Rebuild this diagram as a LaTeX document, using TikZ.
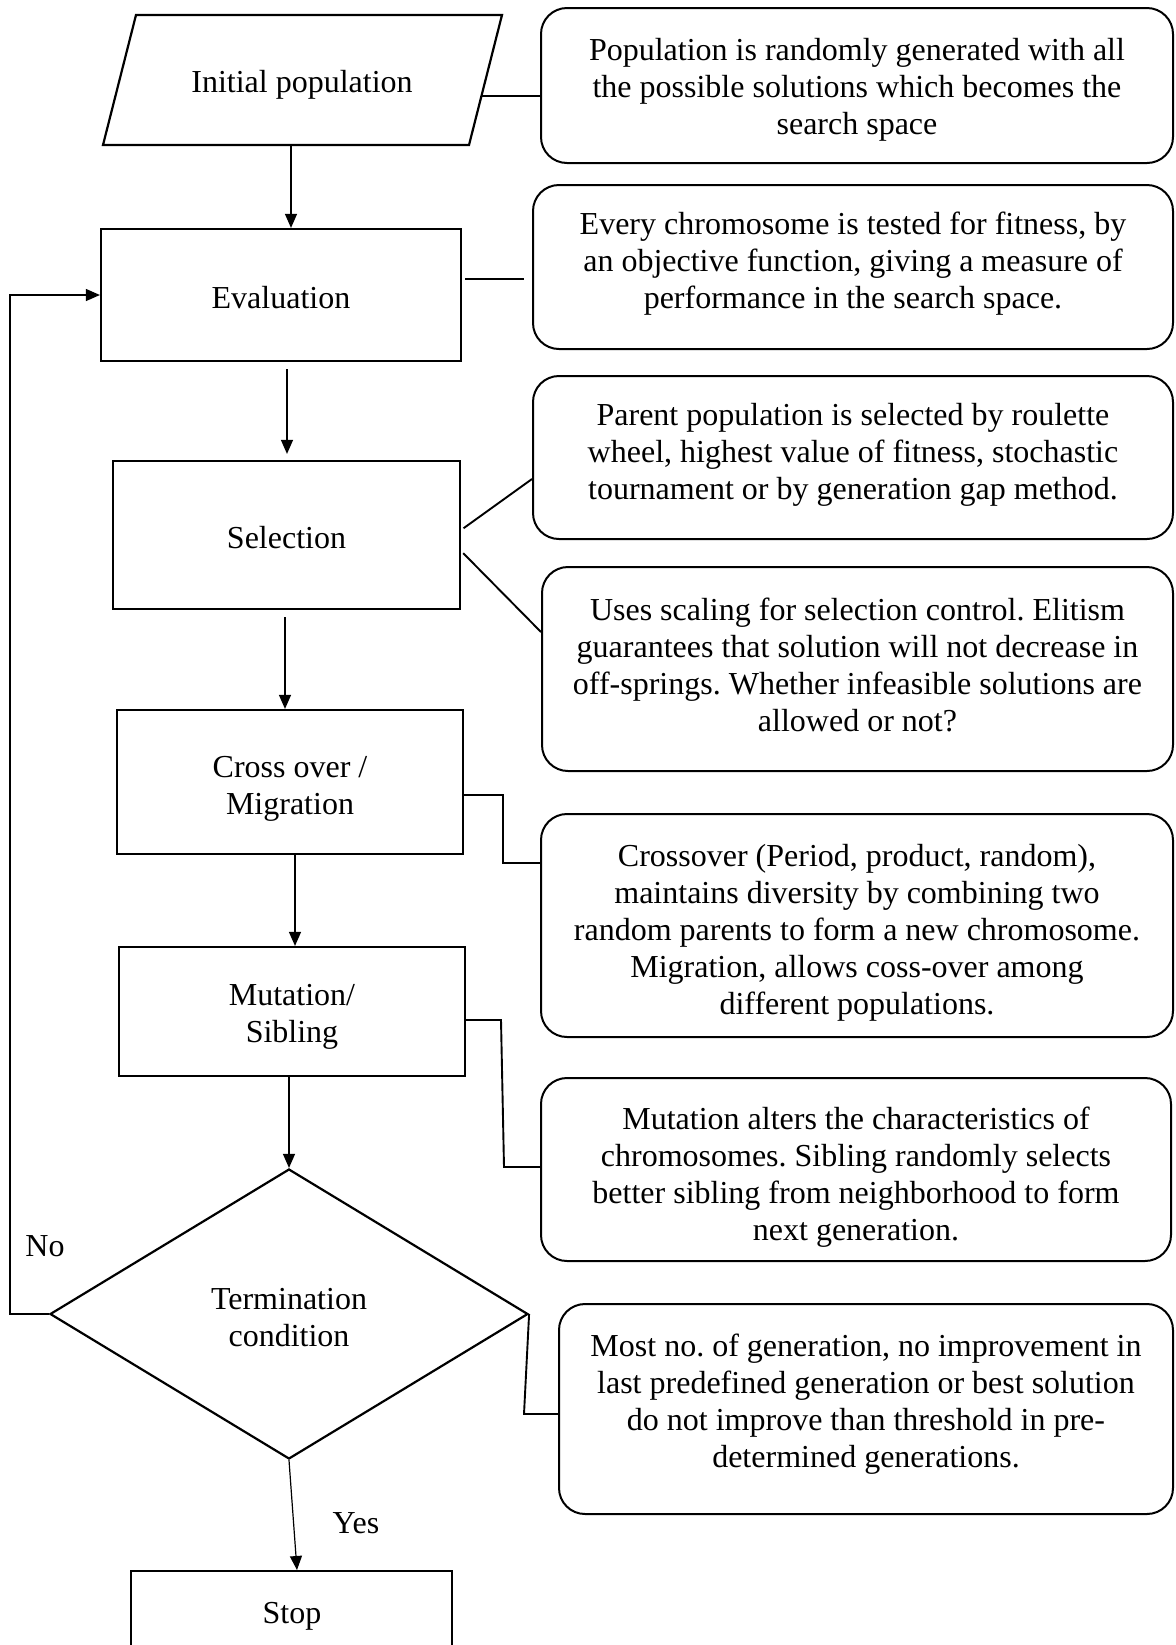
\documentclass[tikz,border=0pt]{standalone}
\usepackage{fontspec}
\setmainfont{Liberation Serif}
\usetikzlibrary{arrows.meta,calc,shapes.geometric}
\frenchspacing
\begin{document}
\begin{tikzpicture}[x=0.5pt,y=-0.5pt,
  txt/.style={inner sep=0pt, align=center, font=\fontsize{16}{18.5}\selectfont},
  proc/.style={draw, line width=1.1pt, inner sep=0pt},
  note/.style={draw, line width=1pt, rounded corners=13pt, inner sep=0pt},
  flow/.style={line width=0.6pt, -{Triangle[length=7pt,width=6pt]}},
  link/.style={line width=0.95pt}]
\useasboundingbox (0,0) rectangle (1176,1645);
\clip (0,0) rectangle (1176,1645);
\fill[white] (0,0) rectangle (1176,1645);

% input parallelogram
\draw[line width=1.1pt] (136,15) -- (502,15) -- (469,145) -- (103,145) -- cycle;
\node[txt] (init) at (302,85) {Initial population};
\coordinate (pb) at (291,145);
\coordinate (pr) at (482,96);

% process boxes
\node[proc, minimum width=180pt, minimum height=66pt] (eval) at (281,295) {};
\node[txt] (evalt) at ($(eval)+(0,3)$) {Evaluation};
\node[proc, minimum width=173.5pt, minimum height=74pt] (sel) at (286.5,535) {};
\node[txt] (selt) at ($(sel)+(0,3)$) {Selection};
\node[proc, minimum width=173pt, minimum height=72pt] (cross) at (290,782) {};
\node[txt] (crosst) at ($(cross)+(0,7)$) {Cross over /\\Migration};
\node[proc, minimum width=173pt, minimum height=64.5pt] (mut) at (292,1011.5) {};
\node[txt] (mutt) at ($(mut)+(0,5.5)$) {Mutation/\\Sibling};
\node[diamond, draw, line width=1.1pt, inner sep=0pt, aspect=1.65, minimum width=239pt, minimum height=145pt] (term) at (289,1314) {};
\node[txt] (termt) at ($(term)+(0,4)$) {Termination\\condition};
\node[proc, minimum width=160.5pt, minimum height=80pt, anchor=north] (stop) at (291.5,1570) {};
\node[txt] (stopt) at (292,1616) {Stop};

% notes
\node[note, minimum width=316pt, minimum height=77.5pt] (n1) at (857,85.5) {};
\node[txt] (n1t) at ($(n1)+(0,4)$)
  {Population is randomly generated with all\\the possible solutions which becomes the\\search space};
\node[note, minimum width=320pt, minimum height=82pt] (n2) at (853,267) {};
\node[txt] (n2t) at ($(n2)+(0,-3)$)
  {Every chromosome is tested for fitness, by\\an objective function, giving a measure of\\performance in the search space.};
\node[note, minimum width=320pt, minimum height=81.5pt] (n3) at (853,457.5) {};
\node[txt] (n3t) at ($(n3)+(0,-3)$)
  {Parent population is selected by roulette\\wheel, highest value of fitness, stochastic\\tournament or by generation gap method.};
\node[note, minimum width=315.5pt, minimum height=102pt] (n4) at (857.5,669) {};
\node[txt] (n4t) at ($(n4)+(0,-4)$)
  {Uses scaling for selection control. Elitism\\guarantees that solution will not decrease in\\off-springs. Whether infeasible solutions are\\allowed or not?};
\node[note, minimum width=316pt, minimum height=111.5pt] (n5) at (857,925.5) {};
\node[txt] (n5t) at ($(n5)+(0,7.5)$)
  {Crossover (Period, product, random),\\maintains diversity by combining two\\random parents to form a new chromosome.\\Migration, allows coss-over among\\different populations.};
\node[note, minimum width=315pt, minimum height=91.5pt] (n6) at (856,1169.5) {};
\node[txt] (n6t) at ($(n6)+(0,8)$)
  {Mutation alters the characteristics of\\chromosomes. Sibling randomly selects\\better sibling from neighborhood to form\\next generation.};
\node[note, minimum width=307pt, minimum height=105pt] (n7) at (866,1409) {};
\node[txt] (n7t) at ($(n7)+(0,-5)$)
  {Most no. of generation, no improvement in\\last predefined generation or best solution\\do not improve than threshold in pre-\\determined generations.};

% labels
\node[txt] (no) at (45,1246) {No};
\node[txt] (yes) at (356,1523) {Yes};

% flow arrows
\draw[flow] (pb) -- (pb |- eval.north);
\draw[flow, shorten <=3.5pt, shorten >=3pt] (eval.south -| 287,0) -- (sel.north -| 287,0);
\draw[flow, shorten <=3.5pt] (sel.south -| 285,0) -- (cross.north -| 285,0);
\draw[flow] (cross.south -| 295,0) -- (mut.north -| 295,0);
\draw[flow] (mut.south -| term.north) -- (term.north);
\draw[flow] (term.south) -- (stop.north -| 297,0);
\draw[flow] (term.west) -- ++(-39,0) |- (eval.west);

% links to notes
\draw[link] (pr) -- (pr -| n1.west);
\draw[link, shorten <=1.5pt, shorten >=4pt] (eval.east |- 0,279) -- (n2.west |- 0,279);
\draw[link, shorten <=1.5pt] (sel.east |- 0,530) -- (n3.west |- 0,479);
\draw[link, shorten <=1.5pt] (sel.east |- 0,551) -- (n4.west |- 0,632);
\draw[link] (cross.east |- 0,795) -| (503,863) -- (n5.west |- 0,863);
\draw[link] (mut.east |- 0,1020) -- (501,1020) -- (504,1167) -- (n6.west |- 0,1167);
\draw[link] (term.east) -- (524,1414) -- (n7.west |- 0,1414);
\end{tikzpicture}
\end{document}
